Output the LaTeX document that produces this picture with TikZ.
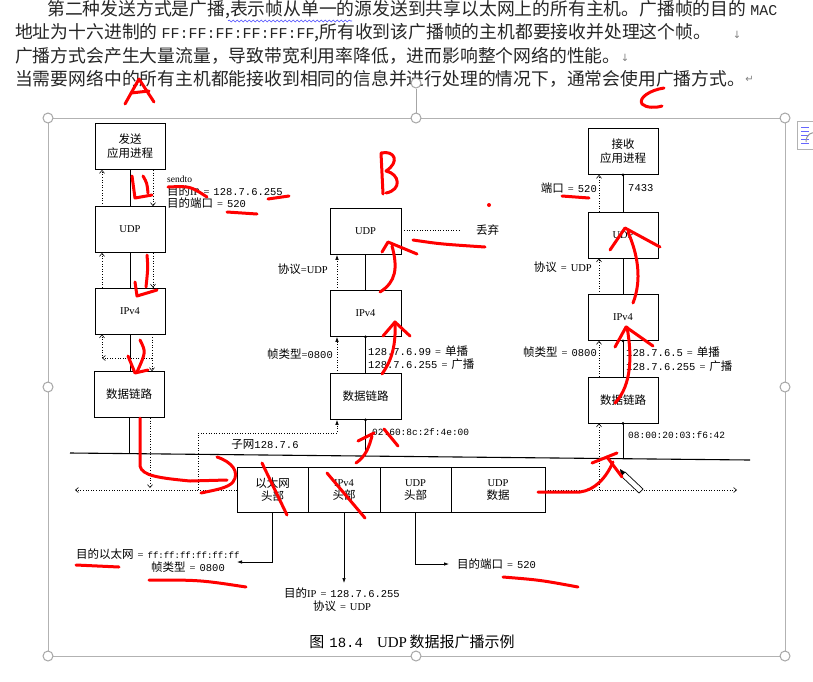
\documentclass[tikz,border=0pt]{standalone}
\usepackage{fontspec}
\setmainfont{Liberation Serif}
\newfontfamily\cjk{Noto Sans CJK SC}
\newfontfamily\mono{Liberation Mono}
\newfontfamily\dejavu{DejaVu Sans}
\usetikzlibrary{arrows.meta,decorations.pathmorphing}
\newcommand\dfont{\fontsize{10.5}{12}\selectfont}
\newcommand\zh[1]{{\cjk\fontsize{11.5}{12}\selectfont #1}}
\newcommand\eq{\hspace{4pt}=\hspace{4pt}}
\begin{document}
\begin{tikzpicture}[x=1pt,y=-1pt,
  box/.style={draw, line width=0.8pt, minimum width=70pt, minimum height=46pt, inner sep=0pt, font=\dfont, align=center},
  cell/.style={draw, line width=0.7pt, minimum height=45pt, inner sep=0pt, outer sep=0pt, anchor=west, align=center, font=\dfont},
  lbl/.style={inner sep=0pt, font=\dfont},
  toptext/.style={inner sep=0pt, anchor=west, font=\cjk\fontsize{17.8}{20}\selectfont, text=black!85},
  sol/.style={line width=0.7pt},
  dotl/.style={dotted, line width=0.6pt},
  oarr/.style={-{Straight Barb[length=3pt,width=5pt]}},
  farr/.style={-{Latex[length=5pt,width=3.5pt]}},
  jdot/.style={circle, fill, inner sep=0pt, minimum size=3pt},
  ink/.style={draw=red, line width=3pt, line cap=round, line join=round},
  handle/.style={circle, draw=gray!70, line width=1pt, fill=white, minimum size=10pt, inner sep=0pt}
]
\useasboundingbox (0,0) rectangle (813,681);
\fill[white] (0,0) rectangle (813,681);

% ---------- document text ----------
\node[toptext] (t1) at (47,10) {第二种发送方式是广播,表示帧从单一的源发送到共享以太网上的所有主机。广播帧的目的 {\mono\fontsize{15}{18}\selectfont MAC}};
\node[toptext] (t2) at (15,33) {地址为十六进制的 {\mono\fontsize{15}{18}\selectfont FF:FF:FF:FF:FF:FF},所有收到该广播帧的主机都要接收并处理这个帧。};
\node[toptext] (t3) at (15,56) {广播方式会产生大量流量，导致带宽利用率降低，进而影响整个网络的性能。};
\node[toptext] (t4) at (15,79) {当需要网络中的所有主机都能接收到相同的信息并进行处理的情况下，通常会使用广播方式。};
\node[inner sep=0pt, text=gray, font=\dejavu\fontsize{10}{12}\selectfont] (pm2) at (737,35) {↓};
\node[inner sep=0pt, text=gray, font=\dejavu\fontsize{10}{12}\selectfont] (pm3) at (625,58) {↓};
\node[inner sep=0pt, text=gray, font=\dejavu\fontsize{10}{12}\selectfont, anchor=west] (pm4) at (t4.east) {↵};
\coordinate (sq1) at (228,21);
\coordinate (sq2) at (352,21);
\draw[blue!70, line width=0.6pt, decorate, decoration={snake, amplitude=1pt, segment length=4pt}] (sq1) -- (sq2);

% ---------- selection frame ----------
\draw[gray!60, line width=0.8pt] (48,118) rectangle (785,656);
\coordinate (rotbase) at (416,118);
\node[handle] (rot) at (416,83) {};
\draw[gray!70, line width=0.8pt] (rot.south) -- (rotbase);
\foreach \p in {(48,118),(416,118),(785,118),(48,387),(785,387),(48,656),(416,656),(785,656)}
  \node[handle] at \p {};
% layout options icon
\node[draw=gray!60, fill=white, minimum width=22pt, minimum height=28pt, inner sep=0pt, anchor=north west] (lay) at (797,121) {};
\foreach \yy in {127,131,135,139,143} \draw[blue!60, line width=0.8pt] (801,\yy) -- (809,\yy);
\draw[gray!80, line width=1pt] (806,142) .. controls (806,134) and (812,132) .. (815,133);

% ---------- left column ----------
\node[box] (send) at (130,146.5) {\zh{发送}\\[2pt]\zh{应用进程}};
\node[box] (udpL) at (130,229.5) {UDP};
\node[box] (ipL)  at (130,311) {IPv4};
\node[box] (dlL)  at (129,394.5) {\zh{数据链路}};
\draw[sol] (send.south) -- (udpL.north);
\draw[sol] (udpL.south) -- (ipL.north);
\draw[sol] (ipL.south) -- ([xshift=1pt]dlL.north);
\draw[dotl,oarr] ([xshift=23pt]send.south) -- ([xshift=23pt]udpL.north);
\draw[dotl,oarr] ([xshift=-28pt]udpL.north) -- ([xshift=-28pt]send.south);
\draw[dotl,oarr] ([xshift=23pt]udpL.south) -- ([xshift=23pt]ipL.north);
\draw[dotl,oarr] ([xshift=-28pt]ipL.north) -- ([xshift=-28pt]udpL.south);
\draw[dotl,oarr] ([xshift=22pt]ipL.south) -- ([xshift=23pt]dlL.north);
\coordinate (lpA) at (152,358);
\coordinate (lpB) at (102,358);
\draw[dotl,oarr] (lpA) -- (lpB);
\draw[dotl,oarr] (lpB) -- ([xshift=-28pt]ipL.south);

\node[lbl, anchor=west, font=\fontsize{9.5}{10}\selectfont] (sendto) at (167,179) {sendto};
\node[lbl, anchor=west] (dip) at (167,191) {\zh{目的}IP\eq{\mono\fontsize{10.5}{12}\selectfont 128.7.6.255}};
\node[lbl, anchor=west] (dport) at (167,203) {\zh{目的端口}\eq{\mono 520}};

% ---------- bus ----------
\coordinate (bus0) at (70,453);
\coordinate (bus1) at (750,460);
\draw[line width=1.1pt] (bus0) -- (bus1);
\coordinate (busA) at (129,453.6);
\coordinate (busB) at (365.5,456);
\coordinate (busC) at (623,458.7);
\draw[sol] (dlL.south) -- (busA);
\coordinate (lpC) at (150,488);
\draw[dotl,oarr] ([xshift=21pt]dlL.south) -- (lpC);

% ---------- packet ----------
\node[cell, minimum width=71pt] (pk1) at (237,490) {\zh{以太网}\\[1pt]\zh{头部}};
\node[cell, minimum width=72pt] (pk2) at (pk1.east) {IPv4\\[1pt]\zh{头部}};
\node[cell, minimum width=71pt] (pk3) at (pk2.east) {UDP\\[1pt]\zh{头部}};
\node[cell, minimum width=94pt] (pk4) at (pk3.east) {UDP\\[1pt]\zh{数据}};
\coordinate (dotLend) at (75,490);
\coordinate (dotRend) at (737,490);
\draw[dotl,oarr] (pk1.west) -- (dotLend);
\draw[dotl,oarr] (pk4.east) -- (dotRend);

% ---------- middle column ----------
\node[box, minimum width=71pt] (udpM) at (365.5,231.5) {UDP};
\node[box, minimum width=71pt] (ipM)  at (365.5,313.5) {IPv4};
\node[box, minimum width=71pt] (dlM)  at (365.5,396.5) {\zh{数据链路}};
\draw[sol] (udpM.south) -- (ipM.north);
\draw[sol] (ipM.south) -- (dlM.north);
\draw[sol] (dlM.south) -- (busB);
\node[jdot] at (ipM.south) {};
\node[jdot] at (dlM.south) {};
\draw[dotl,farr] ([xshift=-28.5pt]ipM.north) -- ([xshift=-28.5pt]udpM.south);
\draw[dotl,farr] ([xshift=-28.5pt]dlM.north) -- ([xshift=-28.5pt]ipM.south);
\node[lbl, anchor=west] (discard) at (476,230) {\zh{丢弃}};
\draw[dotl] ([yshift=1.5pt]udpM.east) -- ([xshift=-16pt]discard.west);
\node[lbl, anchor=east] (protoM) at (328,269) {\zh{协议}=UDP};
\node[lbl, anchor=east] (ftM) at (333,354) {\zh{帧类型}={\mono 0800}};
\node[lbl, anchor=west] (uniM) at (368,351) {{\mono 128.7.6.99}\eq\zh{单播}};
\node[lbl, anchor=west] (bcM) at (368,364) {{\mono 128.7.6.255}\eq\zh{广播}};
\node[lbl, anchor=west] (macM) at (372,432) {\mono\fontsize{9.5}{11}\selectfont 02:60:8c:2f:4e:00};

% subnet dotted path
\coordinate (sn1) at (198,490);
\coordinate (sn2) at (337,433);
\draw[dotl,farr] (sn1) |- (sn2) -- ([xshift=-28.5pt]dlM.south);
\node[lbl] (subnet) at (265,444) {\zh{子网}{\mono 128.7.6}};

% ---------- right column ----------
\node[box] (recv) at (623,151.5) {\zh{接收}\\[2pt]\zh{应用进程}};
\node[box] (udpR) at (623,235) {UDP};
\node[box] (ipR)  at (623,317.5) {IPv4};
\node[box] (dlR)  at (623,400) {\zh{数据链路}};
\draw[sol] (recv.south) -- (udpR.north);
\draw[sol] (udpR.south) -- (ipR.north);
\draw[sol] (ipR.south) -- (dlR.north);
\draw[sol] (dlR.south) -- (busC);
\node[jdot] at (recv.south) {};
\node[jdot] at (ipR.south) {};
\node[jdot] at (dlR.south) {};
\draw[dotl,oarr] ([xshift=-24pt]udpR.north) -- ([xshift=-24pt]recv.south);
\draw[dotl,oarr] ([xshift=-24pt]ipR.north) -- ([xshift=-24pt]udpR.south);
\draw[dotl,oarr] ([xshift=-24pt]dlR.north) -- ([xshift=-24pt]ipR.south);
\coordinate (rdot) at (599,490);
\draw[dotl,oarr] (rdot) -- ([xshift=-24pt]dlR.south);
\node[lbl, anchor=east] (portR) at (597,188) {\zh{端口}\eq{\mono 520}};
\node[lbl, anchor=west] (p7433) at (628,188) {\mono 7433};
\node[lbl, anchor=east] (protoR) at (592,267) {\zh{协议}\eq UDP};
\node[lbl, anchor=east] (ftR) at (597,352) {\zh{帧类型}\eq{\mono 0800}};
\node[lbl, anchor=west] (uniR) at (626,352) {{\mono 128.7.6.5}\eq\zh{单播}};
\node[lbl, anchor=west] (bcR) at (626,366) {{\mono 128.7.6.255}\eq\zh{广播}};
\node[lbl, anchor=west] (macR) at (628,435) {\mono\fontsize{9.5}{11}\selectfont 08:00:20:03:f6:42};

% ---------- bottom labels ----------
\node[lbl, anchor=west] (eth1) at (76,554) {\zh{目的以太网}\eq{\mono\fontsize{9}{11}\selectfont ff:ff:ff:ff:ff:ff}};
\node[lbl, anchor=west] (eth2) at (151,567) {\zh{帧类型}\eq{\mono 0800}};
\coordinate (ethArrow) at (237,562);
\draw[sol,farr] (pk1.south) |- (ethArrow);
\coordinate (ipArrow) at (344,583);
\draw[sol,farr] (pk2.south) -- (ipArrow);
\node[lbl] (ipd1) at (342,593) {\zh{目的}IP\eq{\mono 128.7.6.255}};
\node[lbl] (ipd2) at (342,606) {\zh{协议}\eq UDP};
\node[lbl, anchor=west] (portd) at (457,564) {\zh{目的端口}\eq{\mono 520}};
\draw[sol,farr] (pk3.south) |- ([xshift=-8pt]portd.west);
\node[inner sep=0pt] (cap) at (412,642) {\zh{\fontsize{15}{16}\selectfont 图}\hspace{5pt}{\mono\fontsize{14}{16}\selectfont 18.4}\hspace{14pt}{\fontsize{15}{16}\selectfont UDP} \zh{\fontsize{15}{16}\selectfont 数据报广播示例}};

% ---------- pencil cursor ----------
\draw[line width=0.7pt, fill=white] (625,472) -- (643,489) -- (639,493) -- (621,476) -- cycle;
\fill (620,469) -- (625,472) -- (621,476) -- cycle;

% ---------- red handwriting ----------
\draw[ink] (125,104) -- (139,79) -- (154,102);
\draw[ink] (131,93) -- (149,91);
\draw[ink] (383,194) -- (381,153) .. controls (395,150) and (400,162) .. (386,171) .. controls (400,174) and (402,190) .. (386,193);
\fill[red] (489,205) circle (2pt);
\draw[ink] (664,88) .. controls (650,90) and (638,98) .. (642,104) .. controls (646,108) and (656,108) .. (662,106);

\draw[ink] (132,176) -- (135,198) -- (152,195);
\draw[ink] (143,176) .. controls (147,183) .. (148,193);
\draw[ink] (147,255) .. controls (148,268) .. (146,287);
\draw[ink] (135,282) -- (137,296) -- (157,290);
\draw[ink] (140,340) .. controls (146,352) .. (137,372);
\draw[ink] (128,356) -- (135,373) -- (148,370);
\draw[ink] (140,418) -- (140,466) .. controls (142,476) and (160,478) .. (190,481) -- (227,480);
\draw[ink] (217,457) .. controls (232,462) and (240,472) .. (233,482) .. controls (228,488) and (215,490) .. (201,493);
\draw[ink] (262,463) -- (287,515);
\draw[ink] (327,473) -- (365,518);
\draw[ink] (356,463) .. controls (366,456) and (369,447) .. (372,436);
\draw[ink] (358,441) -- (374,433);
\draw[ink] (384,429) -- (398,446);
\draw[ink] (382,374) .. controls (392,360) and (396,345) .. (395,322);
\draw[ink] (383,336) -- (395,322) -- (410,336);
\draw[ink] (380,292) .. controls (396,282) and (398,268) .. (392,246);
\draw[ink] (382,252) -- (388,242) -- (417,254);
\draw[ink] (413,240) .. controls (440,244) .. (485,247);
\draw[ink] (538,492) -- (580,492) .. controls (595,490) and (606,478) .. (613,462);
\draw[ink] (592,463) -- (617,453);
\draw[ink] (607,457) -- (622,477);
\draw[ink] (615,403) .. controls (632,385) and (632,355) .. (627,327);
\draw[ink] (615,347) -- (626,327) -- (653,346);
\draw[ink] (633,303) .. controls (642,280) and (638,255) .. (628,232);
\draw[ink] (610,250) -- (625,228) -- (660,247);

\draw[ink] (168,187) .. controls (190,186) .. (207,197);
\draw[ink] (268,199) -- (289,196);
\draw[ink] (227,212) -- (257,214);
\draw[ink] (562,196) -- (589,198);
\draw[ink] (76,565) -- (119,567);
\draw[ink] (149,580) .. controls (200,580) .. (246,587);
\draw[ink] (503,577) .. controls (540,580) .. (578,587);
\end{tikzpicture}
\end{document}
